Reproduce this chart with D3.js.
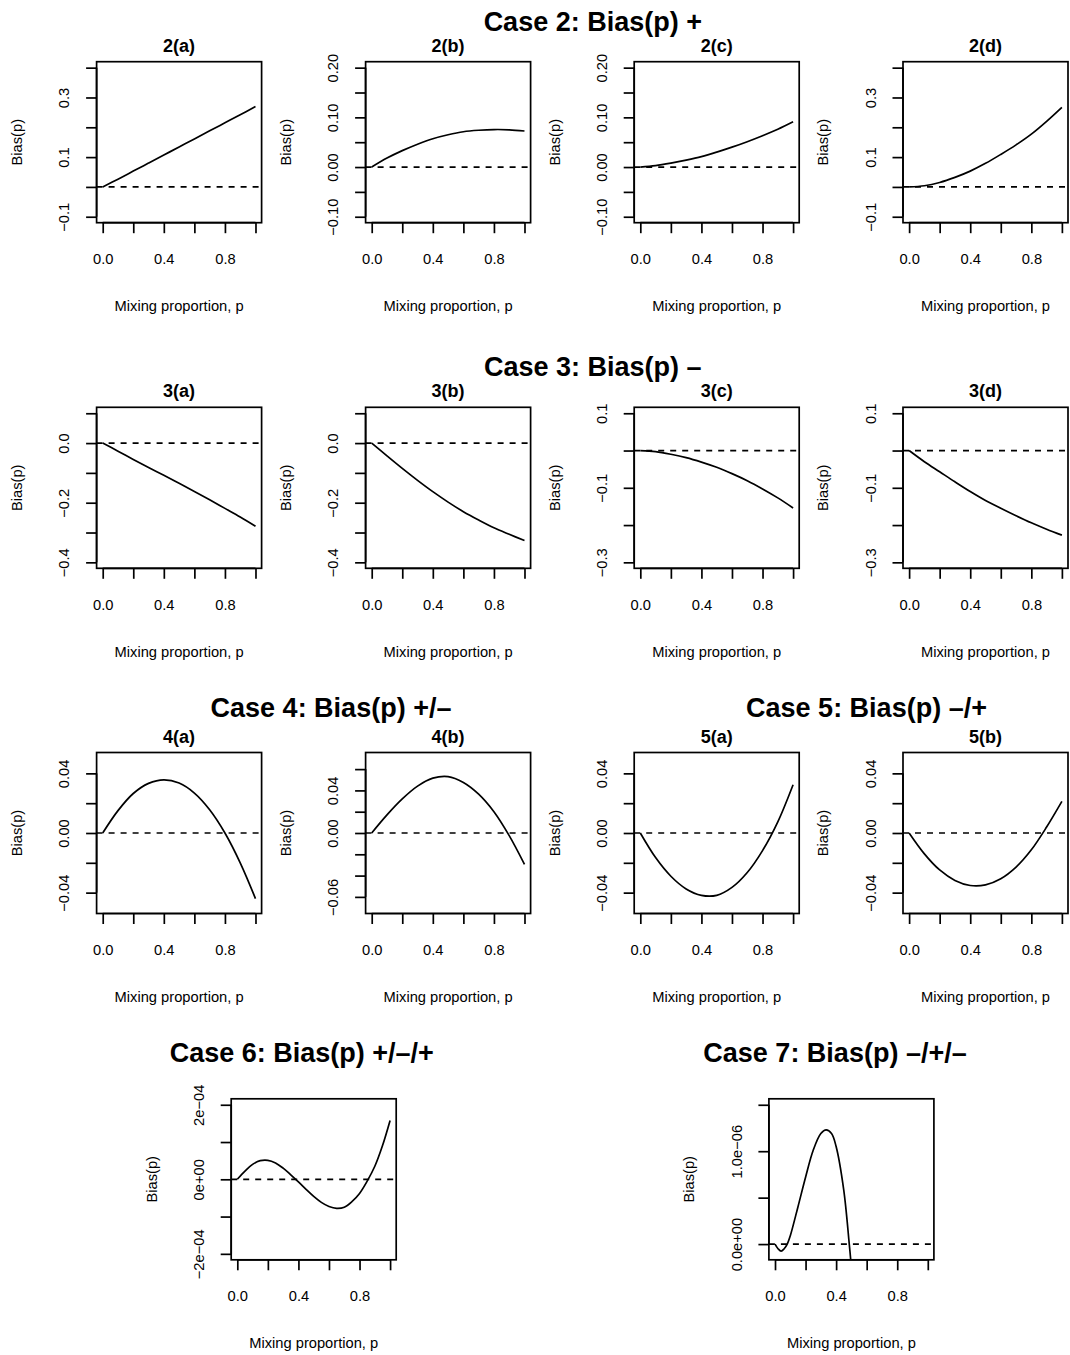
<!DOCTYPE html>
<html><head><meta charset="utf-8">
<script src="https://cdn.jsdelivr.net/npm/d3@7"></script>
<style>
body{margin:0;background:#fff}
svg{display:block}
text{font-family:"Liberation Sans",Arial,Helvetica,sans-serif;fill:#000}
</style>
</head><body><div id="chart"></div>
<script>
// ---------------- data ----------------
const pGrid = [0, 0.1, 0.2, 0.3, 0.4, 0.5, 0.6, 0.7, 0.8, 0.9, 1.0];

const bias2a = [0, 0.026, 0.053, 0.080, 0.107, 0.134, 0.161, 0.188, 0.215, 0.242, 0.270];
const bias2b = [0, 0.018, 0.033, 0.046, 0.057, 0.065, 0.071, 0.074, 0.0755, 0.075, 0.0725];
const bias2c = [0, 0.003, 0.008, 0.014, 0.021, 0.030, 0.040, 0.051, 0.063, 0.076, 0.091];
const bias2d = [0, 0.004, 0.015, 0.032, 0.053, 0.079, 0.109, 0.141, 0.177, 0.220, 0.267];

const bias3a = [0, -0.027, -0.055, -0.082, -0.108, -0.135, -0.162, -0.190, -0.219, -0.248, -0.279];
const bias3b = [0, -0.043, -0.085, -0.125, -0.163, -0.198, -0.230, -0.258, -0.284, -0.306, -0.327];
const bias3c = [0, -0.003, -0.010, -0.019, -0.031, -0.045, -0.062, -0.081, -0.103, -0.127, -0.154];
const bias3d = [0, -0.030, -0.057, -0.084, -0.110, -0.134, -0.155, -0.175, -0.194, -0.211, -0.227];

const bias4a = [0, 0.0150, 0.0265, 0.0333, 0.0357, 0.0335, 0.0268, 0.0156, 0.0, -0.0200, -0.0440];
const bias4b = [0, 0.0170, 0.0320, 0.0440, 0.0515, 0.0530, 0.0475, 0.0365, 0.0200, -0.0025, -0.0295];
const bias5a = [0, -0.0165, -0.0290, -0.0375, -0.0418, -0.0418, -0.0365, -0.0265, -0.0118, 0.0075, 0.0324];
const bias5b = [0, -0.0140, -0.0248, -0.0318, -0.0352, -0.0348, -0.0307, -0.0229, -0.0113, 0.0040, 0.0212];

const p6 = [0, 0.05, 0.10, 0.15, 0.20, 0.25, 0.30, 0.35, 0.40, 0.45, 0.50, 0.55, 0.60, 0.65, 0.70, 0.75, 0.80, 0.85, 0.90, 0.95, 1.00];
const bias6 = [0, 0.22e-4, 0.40e-4, 0.50e-4, 0.51e-4, 0.44e-4, 0.30e-4, 0.12e-4, -0.07e-4, -0.27e-4, -0.46e-4,
               -0.62e-4, -0.73e-4, -0.78e-4, -0.75e-4, -0.60e-4, -0.38e-4, -0.05e-4, 0.35e-4, 0.90e-4, 1.58e-4];

const p7 = [0, 0.02, 0.04, 0.06, 0.08, 0.10, 0.15, 0.20, 0.25, 0.30, 0.335, 0.37, 0.40, 0.45, 0.486, 0.50];
const bias7 = [0, -0.05e-6, -0.076e-6, -0.05e-6, 0.0, 0.09e-6, 0.40e-6, 0.72e-6, 1.01e-6, 1.19e-6, 1.23e-6, 1.19e-6,
               1.05e-6, 0.58e-6, 0.0, -0.25e-6];

// axis ticks and labels
const xTicks = [0, 0.2, 0.4, 0.6, 0.8, 1.0];
const xTickLabels = ["0.0", "", "0.4", "", "0.8", ""];

const yTicksA = [-0.1, 0, 0.1, 0.2, 0.3, 0.4];
const yLabelsA = ["\u22120.1", "", "0.1", "", "0.3", ""];
const yTicksB = [-0.10, -0.05, 0, 0.05, 0.10, 0.15, 0.20];
const yLabelsB = ["\u22120.10", "", "0.00", "", "0.10", "", "0.20"];
const yTicksC = [-0.4, -0.3, -0.2, -0.1, 0, 0.1];
const yLabelsC = ["\u22120.4", "", "\u22120.2", "", "0.0", ""];
const yTicksD = [-0.3, -0.2, -0.1, 0, 0.1];
const yLabelsD = ["\u22120.3", "", "\u22120.1", "", "0.1"];
const yTicksE = [-0.04, -0.02, 0, 0.02, 0.04];
const yLabelsE = ["\u22120.04", "", "0.00", "", "0.04"];
const yTicksF = [-0.06, -0.04, -0.02, 0, 0.02, 0.04, 0.06];
const yLabelsF = ["\u22120.06", "", "", "0.00", "", "0.04", ""];
const yTicksG = [-2e-4, -1e-4, 0, 1e-4, 2e-4];
const yLabelsG = ["\u22122e\u221204", "", "0e+00", "", "2e\u221204"];
const yTicksH = [0, 0.5e-6, 1.0e-6, 1.5e-6];
const yLabelsH = ["0.0e+00", "", "1.0e\u221206", ""];

const ylimA = [-0.1, 0.4], ylimB = [-0.1, 0.2], ylimC = [-0.4, 0.1], ylimD = [-0.3, 0.1];
const ylimE = [-0.05, 0.05], ylimF = [-0.07, 0.07], ylimG = [-2e-4, 2e-4], ylimH = [-1.05e-7, 1.5e-6];

const panelTitles = ["2(a)", "2(b)", "2(c)", "2(d)", "3(a)", "3(b)", "3(c)", "3(d)", "4(a)", "4(b)", "5(a)", "5(b)", "", ""];
const caseTitles = ["Case 2: Bias(p) +", "Case 3: Bias(p) \u2013", "Case 4: Bias(p) +/\u2013",
                    "Case 5: Bias(p) \u2013/+", "Case 6: Bias(p) +/\u2013/+", "Case 7: Bias(p) \u2013/+/\u2013"];
const xAxisTitle = "Mixing proportion, p";
const yAxisTitle = "Bias(p)";

// ---------------- layout ----------------
const W = 1070, H = 1355;
const BOX_W = 165, BOX_H = 161;
const colX = [96.6, 365.6, 634.2, 903.0];
const rowY = [61.7, 407.3, 752.5, 1098.8];
const row4X = [231.2, 768.9];
const caseTitlePos = [[592.8, 30.5], [592.8, 376], [331, 717], [866.5, 717], [301.8, 1062], [835, 1062]];

const panels = [
  {xs: pGrid, ys: bias2a, ylim: ylimA, yt: yTicksA, yl: yLabelsA, left: colX[0], top: rowY[0]},
  {xs: pGrid, ys: bias2b, ylim: ylimB, yt: yTicksB, yl: yLabelsB, left: colX[1], top: rowY[0]},
  {xs: pGrid, ys: bias2c, ylim: ylimB, yt: yTicksB, yl: yLabelsB, left: colX[2], top: rowY[0]},
  {xs: pGrid, ys: bias2d, ylim: ylimA, yt: yTicksA, yl: yLabelsA, left: colX[3], top: rowY[0]},
  {xs: pGrid, ys: bias3a, ylim: ylimC, yt: yTicksC, yl: yLabelsC, left: colX[0], top: rowY[1]},
  {xs: pGrid, ys: bias3b, ylim: ylimC, yt: yTicksC, yl: yLabelsC, left: colX[1], top: rowY[1]},
  {xs: pGrid, ys: bias3c, ylim: ylimD, yt: yTicksD, yl: yLabelsD, left: colX[2], top: rowY[1]},
  {xs: pGrid, ys: bias3d, ylim: ylimD, yt: yTicksD, yl: yLabelsD, left: colX[3], top: rowY[1]},
  {xs: pGrid, ys: bias4a, ylim: ylimE, yt: yTicksE, yl: yLabelsE, left: colX[0], top: rowY[2]},
  {xs: pGrid, ys: bias4b, ylim: ylimF, yt: yTicksF, yl: yLabelsF, left: colX[1], top: rowY[2]},
  {xs: pGrid, ys: bias5a, ylim: ylimE, yt: yTicksE, yl: yLabelsE, left: colX[2], top: rowY[2]},
  {xs: pGrid, ys: bias5b, ylim: ylimE, yt: yTicksE, yl: yLabelsE, left: colX[3], top: rowY[2]},
  {xs: p6, ys: bias6, ylim: ylimG, yt: yTicksG, yl: yLabelsG, left: row4X[0], top: rowY[3]},
  {xs: p7, ys: bias7, ylim: ylimH, yt: yTicksH, yl: yLabelsH, left: row4X[1], top: rowY[3]}
];

const LW = 1.7;
const FONT = '"Liberation Sans",Arial,Helvetica,sans-serif';
const svg = d3.select("#chart").append("svg").attr("width", W).attr("height", H);
svg.append("rect").attr("width", W).attr("height", H).attr("fill", "#fff");

function pad(lim) { const r = lim[1] - lim[0]; return [lim[0] - 0.04 * r, lim[1] + 0.04 * r]; }

panels.forEach((pn, i) => {
  const x = d3.scaleLinear().domain(pad([0, 1])).range([pn.left, pn.left + BOX_W]);
  const y = d3.scaleLinear().domain(pad(pn.ylim)).range([pn.top + BOX_H, pn.top]);
  const g = svg.append("g");
  const clipId = "clip" + i;
  svg.append("clipPath").attr("id", clipId).append("rect")
    .attr("x", pn.left).attr("y", pn.top).attr("width", BOX_W).attr("height", BOX_H);

  // x axis
  const xa = g.append("g").attr("transform", `translate(0,${pn.top + BOX_H})`)
    .call(d3.axisBottom(x).tickValues(xTicks).tickSize(10.5).tickSizeOuter(0).tickPadding(20.5)
      .tickFormat((d, k) => xTickLabels[k]));
  xa.select(".domain").remove();
  xa.append("line").attr("x1", x(xTicks[0])).attr("x2", x(xTicks[xTicks.length - 1]))
    .attr("stroke", "#000").attr("stroke-width", LW);
  xa.selectAll(".tick line").attr("stroke", "#000").attr("stroke-width", LW);
  xa.selectAll(".tick text").attr("font-size", "14.7px").attr("fill", "#000").attr("font-family", FONT);

  // y axis
  const ya = g.append("g").attr("transform", `translate(${pn.left},0)`)
    .call(d3.axisLeft(y).tickValues(pn.yt).tickSize(10.5).tickSizeOuter(0)
      .tickFormat((d, k) => pn.yl[k]));
  ya.select(".domain").remove();
  ya.append("line").attr("y1", y(pn.yt[0])).attr("y2", y(pn.yt[pn.yt.length - 1]))
    .attr("stroke", "#000").attr("stroke-width", LW);
  ya.selectAll(".tick line").attr("stroke", "#000").attr("stroke-width", LW);
  ya.selectAll(".tick text").attr("x", null).attr("dy", null).attr("text-anchor", "middle")
    .attr("transform", "translate(-27.3,0) rotate(-90)")
    .attr("font-size", "14.7px").attr("fill", "#000").attr("font-family", FONT);

  // zero reference line
  g.append("line").attr("x1", pn.left).attr("x2", pn.left + BOX_W)
    .attr("y1", y(0)).attr("y2", y(0))
    .attr("stroke", "#000").attr("stroke-width", LW).attr("stroke-dasharray", "6,6");

  // data curve
  const line = d3.line().x(d => x(d[0])).y(d => y(d[1])).curve(d3.curveCatmullRom.alpha(0.5));
  g.append("path").datum(pn.xs.map((p, k) => [p, pn.ys[k]]))
    .attr("d", line).attr("fill", "none").attr("stroke", "#000").attr("stroke-width", LW)
    .attr("stroke-linejoin", "round").attr("clip-path", `url(#${clipId})`);

  // box
  g.append("rect").attr("x", pn.left).attr("y", pn.top).attr("width", BOX_W).attr("height", BOX_H)
    .attr("fill", "none").attr("stroke", "#000").attr("stroke-width", LW);

  // panel title
  if (panelTitles[i]) {
    g.append("text").attr("x", pn.left + BOX_W / 2).attr("y", pn.top - 10)
      .attr("text-anchor", "middle").attr("font-weight", "bold").attr("font-size", "18px")
      .text(panelTitles[i]);
  }
  // axis titles
  g.append("text").attr("x", pn.left + BOX_W / 2).attr("y", pn.top + BOX_H + 88.3)
    .attr("text-anchor", "middle").attr("font-size", "14.7px").text(xAxisTitle);
  g.append("text").attr("transform", `translate(${pn.left - 74.6},${pn.top + BOX_H / 2}) rotate(-90)`)
    .attr("text-anchor", "middle").attr("font-size", "14.7px").text(yAxisTitle);
});

caseTitles.forEach((t, k) => {
  svg.append("text").attr("x", caseTitlePos[k][0]).attr("y", caseTitlePos[k][1])
    .attr("text-anchor", "middle").attr("font-weight", "bold").attr("font-size", "27px").text(t);
});
</script>
</body></html>
